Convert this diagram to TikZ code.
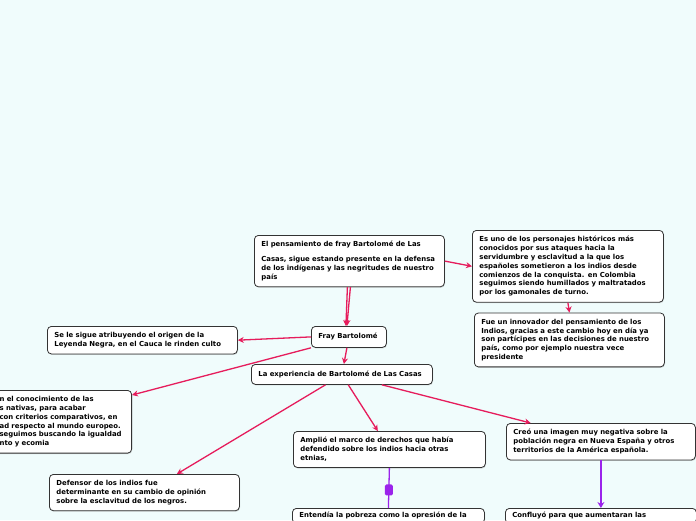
\documentclass[tikz,border=0pt]{standalone}
\usepackage{fontspec}
\setmainfont{DejaVu Sans}
\usepackage{xcolor}
\usepackage{tikz}
\usetikzlibrary{arrows.meta, positioning, calc, shadows}
\definecolor{mapbg}{RGB}{240,252,252}
\definecolor{linkred}{RGB}{230,28,92}
\definecolor{linkpurple}{RGB}{155,35,235}

\begin{document}
\begin{tikzpicture}[
    x=1pt, y=-1pt,
    idea/.style={rectangle, rounded corners=4pt, draw=black!80, line width=0.8pt, fill=white, drop shadow={shadow xshift=0.6pt, shadow yshift=-1pt, opacity=0.3}, align=left, anchor=north west, inner xsep=7pt, inner ysep=6pt, font=\bfseries\fontsize{6.9}{8.8}\selectfont},
    link/.style={-{Stealth[length=6pt,width=6pt]}, line width=1.3pt, linkred},
    sublink/.style={line width=1.3pt, linkpurple},
    knob/.style={fill=linkpurple, rounded corners=1.5pt, minimum width=8pt, minimum height=11pt, inner sep=0pt}
]
\fill[mapbg] (0,0) rectangle (696,520);
\useasboundingbox (0,0) rectangle (696,520);
\clip (0,0) rectangle (696,520);

\node[idea, text width=176pt] (T1) at (254,235) {El pensamiento de fray Bartolomé de Las\\[6pt]Casas, sigue estando presente en la defensa\\de los indígenas y las negritudes de nuestro\\país};

\node[idea, text width=177pt] (R1) at (472,230) {Es uno de los personajes históricos más\\conocidos por sus ataques hacia la\\servidumbre y esclavitud a la que los\\españoles sometieron a los indios desde\\comienzos de la conquista. en Colombia\\seguimos siendo humillados y maltratados\\por los gamonales de turno.};

\node[idea, text width=176pt, below=10pt of R1.south, xshift=1.5pt] (R2) {Fue un innovador del pensamiento de los\\Indios, gracias a este cambio hoy en día ya\\son partícipes en las decisiones de nuestro\\país, como por ejemplo nuestra vece\\presidente};

\node[idea, text width=61pt, minimum height=21pt] (FB) at (311,326) {Fray Bartolomé};

\node[idea, text width=176pt] (L1) at (47,326) {Se le sigue atribuyendo el origen de la\\Leyenda Negra, en el Cauca le rinden culto};

\node[idea, text width=167pt, minimum height=20pt] (EX) at (251,364) {La experiencia de Bartolomé de Las Casas};

\node[idea, text width=125pt, anchor=north east] (L2) at (132,390) {n el conocimiento de las\\s nativas, para acabar\\ con criterios comparativos, en\\ad respecto al mundo europeo.\\ seguimos buscando la igualdad\\nto y ecomia};

\node[idea, text width=178pt] (A1) at (293,431) {Amplió el marco de derechos que había\\defendido sobre los indios hacia otras\\etnias,};
\node[idea, text width=178pt, inner ysep=4pt] (A2) at (292,508) {Entendía la pobreza como la opresión de la};

\node[idea, text width=175pt] (C1) at (506,423) {Creó una imagen muy negativa sobre la\\población negra en Nueva España y otros\\territorios de la América española.};
\node[idea, text width=177pt, inner ysep=4pt] (C2) at (505,508) {Confluyó para que aumentaran las};

\node[idea, text width=176pt] (D1) at (49,474) {Defensor de los indios fue\\determinante en su cambio de opinión\\sobre la esclavitud de los negros.};

% links from the main idea
\draw[link] ([xshift=-2pt]T1.south) -- ([xshift=-3pt]FB.north);
\draw[link] ([xshift=1pt]T1.south) -- ([xshift=-2pt]FB.north);
\draw[link] (T1.east) -- (R1.west);
\draw[link] (R1.south) -- (R2.north);

% links from Fray Bartolome
\draw[link] (FB.west) -- (L1.east);
\draw[link] ([xshift=-2pt]FB.south) -- ([xshift=2pt]EX.north);
\draw[link] (FB.south west) -- ([yshift=-5pt]L2.north east);

% links from the experience
\draw[link] ($(EX.south west)!0.41!(EX.south east)$) -- ($(D1.north west)!0.67!(D1.north east)$);
\draw[link] ($(EX.south west)!0.535!(EX.south east)$) -- ($(A1.north west)!0.44!(A1.north east)$);
\draw[link] ($(EX.south west)!0.72!(EX.south east)$) -- ($(C1.north west)!0.13!(C1.north east)$);

\draw[sublink] (A1.south) -- node[knob, pos=0.55] (K1) {} (A2.north);
\draw[sublink, -{Stealth[length=6pt,width=7pt]}] (C1.south) -- (C2.north);
\end{tikzpicture}
\end{document}
